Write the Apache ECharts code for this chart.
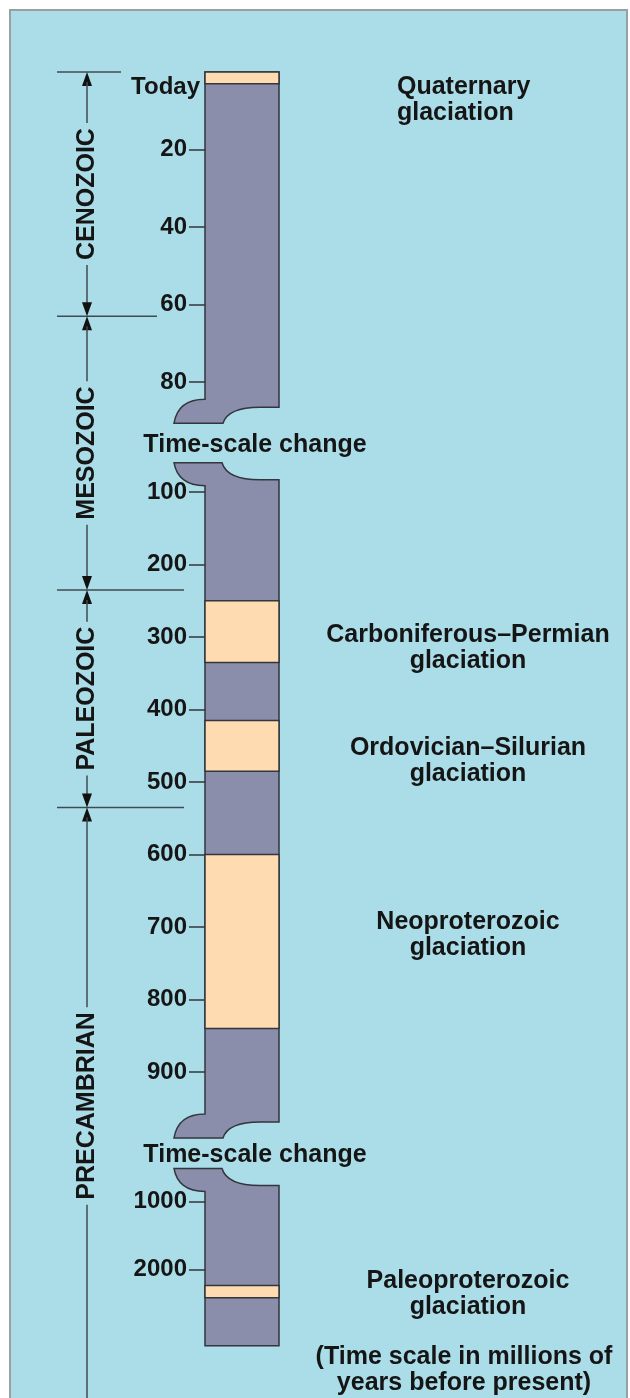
<!DOCTYPE html>
<html>
<head>
<meta charset="utf-8">
<script src="https://cdn.jsdelivr.net/npm/echarts@6/dist/echarts.min.js"></script>
<style>
html, body { margin: 0; padding: 0; background: #fff; }
#chart { width: 630px; height: 1398px; }
</style>
</head>
<body>
<div id="chart"></div>
<script>
// time in millions of years before present, drawn as three stacked pieces
const segMin = [0, 50, 500];
const segMax = [92, 1000, 3200];
const colTop = [0, 83, 760];
const colBottom = [86.5, 969, 3130];
const tickValues = [
    [20, 40, 60, 80],
    [100, 200, 300, 400, 500, 600, 700, 800, 900],
    [1000, 2000]
];
const labelValues = [
    [0, 20, 40, 60, 80],
    [100, 200, 300, 400, 500, 600, 700, 800, 900],
    [1000, 2000]
];

const glacNames = [
    'Quaternary\nglaciation',
    'Carboniferous–Permian\nglaciation',
    'Ordovician–Silurian\nglaciation',
    'Neoproterozoic\nglaciation',
    'Paleoproterozoic\nglaciation'
];
const glacStart = [0, 250, 415, 600, 2240];
const glacEnd = [3, 335, 485, 840, 2420];

const eraNames = ['CENOZOIC', 'MESOZOIC', 'PALEOZOIC', 'PRECAMBRIAN'];
const eraBounds = [0, 63, 235, 535, 4000];

const noteText = '(Time scale in millions of\nyears before present)';
const breakText = 'Time-scale change';

// layout / style
const gridTop = [72, 455.75, 1167.9];
const gridHeight = [356.5, 688.75, 182.5];
const COL_LEFT = 205, COL_W = 74;
const labelNudge = [22, 17, 15, -6, 3];
const eraLineEnd = [121, 157, 184, 184];
const ERA_X = 87;

const PANEL = '#abdde8';
const COLUMN = '#8a8eaa';
const ORANGE = '#fedbb0';
const EDGE = '#33363d';
const INK = '#151515';
const LINE = '#404a52';
const FONT = '"Liberation Sans", Arial, sans-serif';

const segOf = v => v <= segMax[0] ? 0 : (v <= segMax[1] ? 1 : 2);

const columnItem = (params, api) => {
    const i = api.value(2);
    const p0 = api.coord([0, api.value(0)]);
    const p1 = api.coord([1, api.value(1)]);
    const xL = p0[0], xR = p1[0], yT = p0[1], yB = p1[1];
    let d;
    if (i > 0) {
        d = `M${xR} ${yT} L${xL + 55} ${yT} Q${xL + 22} ${yT} ${xL + 17} ${yT - 17}` +
            ` L${xL - 31} ${yT - 17} Q${xL - 27} ${yT + 6} ${xL} ${yT + 6}`;
    } else {
        d = `M${xR} ${yT} L${xL} ${yT}`;
    }
    if (i < 2) {
        d += ` L${xL} ${yB - 8} Q${xL - 27} ${yB - 8} ${xL - 31} ${yB + 16}` +
             ` L${xL + 18} ${yB + 16} Q${xL + 23} ${yB} ${xL + 55} ${yB}`;
    } else {
        d += ` L${xL} ${yB}`;
    }
    d += ` L${xR} ${yB} Z`;
    return {
        type: 'path',
        shape: { pathData: d },
        style: { fill: COLUMN, stroke: EDGE, lineWidth: 1.5 }
    };
};

const bandItem = (params, api) => {
    const k = api.value(2);
    const a = api.coord([0, api.value(0)]);
    const b = api.coord([1, api.value(1)]);
    const cy = (a[1] + b[1]) / 2 + labelNudge[k];
    return {
        type: 'group',
        children: [
            {
                type: 'rect',
                shape: { x: a[0], y: a[1], width: b[0] - a[0], height: b[1] - a[1] },
                style: { fill: ORANGE, stroke: EDGE, lineWidth: 1.5 }
            },
            {
                type: 'text',
                x: k === 0 ? 397 : 468,
                y: cy,
                style: {
                    text: glacNames[k], fill: INK, font: 'bold 25px ' + FONT,
                    align: k === 0 ? 'left' : 'center', verticalAlign: 'middle', lineHeight: 26
                }
            }
        ]
    };
};

const series = [];
segMin.forEach((mn, i) => {
    series.push({
        type: 'custom', xAxisIndex: i, yAxisIndex: i, renderItem: columnItem,
        data: [[colTop[i], colBottom[i], i]], silent: true
    });
    const bands = [];
    glacStart.forEach((s, k) => {
        if (segOf(s) === i) bands.push([s, glacEnd[k], k]);
    });
    series.push({
        type: 'custom', xAxisIndex: i, yAxisIndex: i, renderItem: bandItem,
        data: bands, silent: true, z: 3
    });
});

const chart = echarts.init(document.getElementById('chart'));
chart.setOption({
    backgroundColor: '#fff',
    animation: false,
    grid: segMin.map((mn, i) => ({
        left: COL_LEFT, width: COL_W, top: gridTop[i], height: gridHeight[i]
    })),
    xAxis: segMin.map((mn, i) => ({
        gridIndex: i, type: 'value', min: 0, max: 1, show: false
    })),
    yAxis: segMin.map((mn, i) => ({
        gridIndex: i, type: 'value', inverse: true, min: mn, max: segMax[i],
        axisLine: { show: false },
        splitLine: { show: false },
        axisTick: {
            show: true, customValues: tickValues[i], length: 16,
            lineStyle: { color: EDGE, width: 1.5 }
        },
        axisLabel: {
            customValues: labelValues[i], margin: 5,
            color: INK, fontSize: 24, fontWeight: 'bold', fontFamily: FONT,
            formatter: v => v === 0 ? '{t|Today}' : '{n|' + v + '}',
            rich: {
                n: { color: INK, fontSize: 24, fontWeight: 'bold', fontFamily: FONT, padding: [0, 13, 0, 0] },
                t: { color: INK, fontSize: 24, fontWeight: 'bold', fontFamily: FONT, padding: [30, 0, 0, 0] }
            }
        }
    })),
    series: series
});

// era brackets, break notes and footnote placed through the axes
const measure = document.createElement('canvas').getContext('2d');
measure.font = 'bold 25px ' + FONT;
const yPix = v => chart.convertToPixel({ yAxisIndex: segOf(v) }, v);

const graphic = [{
    type: 'rect', z: -10, silent: true,
    shape: { x: 10, y: 10, width: 617, height: 1400 },
    style: { fill: PANEL, stroke: '#9a9fa2', lineWidth: 2 }
}];
const arrow = (y, dir) => ({
    type: 'polygon', silent: true,
    shape: { points: [[ERA_X, y], [ERA_X - 5, y + dir * 14], [ERA_X + 5, y + dir * 14]] },
    style: { fill: '#111' }
});
const vline = (y0, y1) => ({
    type: 'line', silent: true,
    shape: { x1: ERA_X, y1: y0, x2: ERA_X, y2: y1 },
    style: { stroke: LINE, lineWidth: 1.5 }
});

eraBounds.slice(0, -1).forEach((b, j) => {
    const y = yPix(b);
    graphic.push({
        type: 'line', silent: true,
        shape: { x1: 57, y1: y, x2: eraLineEnd[j], y2: y },
        style: { stroke: LINE, lineWidth: 1.5 }
    });
});
eraNames.forEach((name, e) => {
    const y0 = yPix(eraBounds[e]);
    const y1 = yPix(eraBounds[e + 1]);
    const mid = (y0 + y1) / 2;
    const half = measure.measureText(name).width / 2 + 5;
    const last = e === eraNames.length - 1;
    graphic.push(arrow(y0, 1));
    graphic.push(vline(y0 + 10, mid - half));
    graphic.push(vline(mid + half, last ? y1 : y1 - 10));
    if (!last) graphic.push(arrow(y1, -1));
    graphic.push({
        type: 'text', silent: true, x: ERA_X, y: mid, rotation: Math.PI / 2,
        style: { text: name, fill: INK, font: 'bold 25px ' + FONT, align: 'center', verticalAlign: 'middle' }
    });
});
[0, 1].forEach(i => {
    const yA = chart.convertToPixel({ yAxisIndex: i }, colBottom[i]) + 16;
    const yB = chart.convertToPixel({ yAxisIndex: i + 1 }, colTop[i + 1]) - 17;
    graphic.push({
        type: 'text', silent: true, x: 255, y: (yA + yB) / 2 + 2,
        style: { text: breakText, fill: INK, font: 'bold 25px ' + FONT, align: 'center', verticalAlign: 'middle' }
    });
});
graphic.push({
    type: 'text', silent: true, x: 464, y: 1370,
    style: { text: noteText, fill: INK, font: 'bold 25px ' + FONT, align: 'center', verticalAlign: 'middle', lineHeight: 26 }
});

chart.setOption({ graphic: graphic });
</script>
</body>
</html>
